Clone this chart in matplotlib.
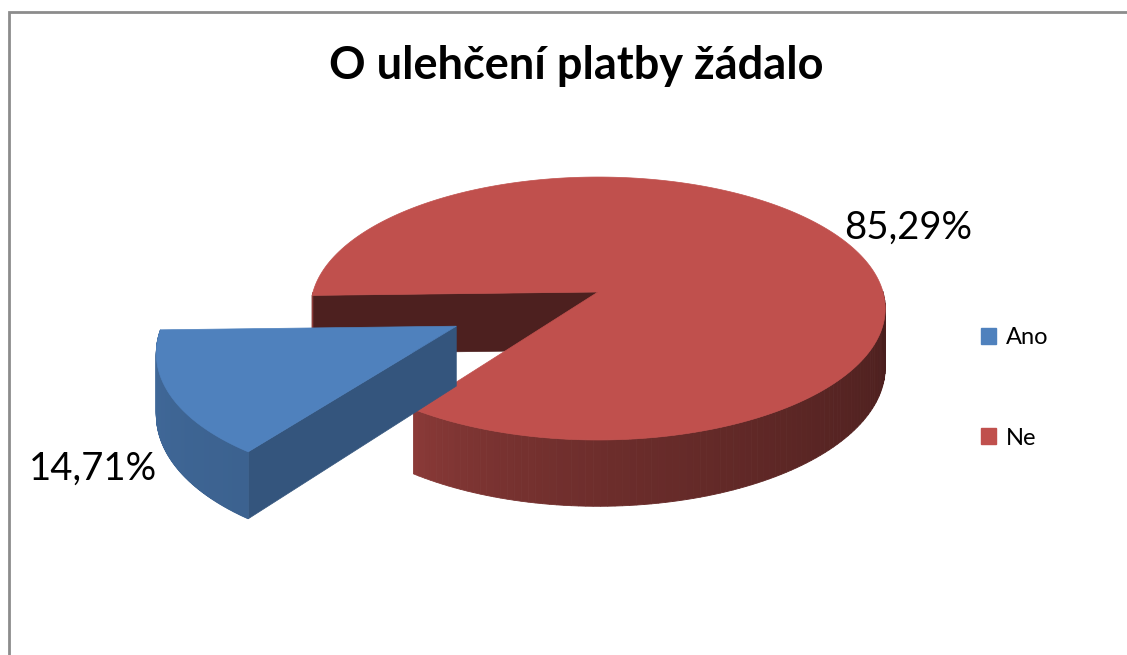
import numpy as np
import matplotlib
matplotlib.use('Agg')
import matplotlib.pyplot as plt
from matplotlib.patches import Polygon, Patch
from matplotlib.colors import to_rgb

# data
labels = ['Ano', 'Ne']
shares = [14.71, 85.29]
pct_text = ['14,71%', '85,29%']
colors = ['#4F81BD', '#C0504D']
title = 'O ulehčení platby žádalo'

# fake 3D pie geometry (pixel space of the picture)
CX, CY = 598, 292
RX, RY = 285, 129.4
PERSP = 0.1255
DEPTH = 58
START = 181.5
explode = [0.545, 0.0]
side_shade = [(0.84, 0.76), (0.74, 0.38)]
face_shade = [0.66, 0.40]
label_xy = [(93, 469), (908, 228)]

FONT = ['Lato', 'DejaVu Sans']


def proj(u, v, z=0.0):
    w = 1 + PERSP * v
    return CX + RX * u / w, CY + (-RY * v + DEPTH * z) / w


def shade(col, f):
    return tuple(np.clip(np.array(to_rgb(col)) * f, 0, 1))


def draw_slice(ax, a0, a1, ex, col, sf, ff):
    mid = np.radians((a0 + a1) / 2)
    ou, ov = ex * np.cos(mid), ex * np.sin(mid)
    th = np.radians(np.linspace(a0, a1, 240))

    # flat radial walls, only the ones facing the viewer
    for a, sgn in ((a0, -1), (a1, 1)):
        n = np.radians(a + sgn * 90)
        if np.sin(n) < 0:
            ar = np.radians(a)
            pts = [proj(ou, ov, 0), proj(ou + np.cos(ar), ov + np.sin(ar), 0),
                   proj(ou + np.cos(ar), ov + np.sin(ar), 1), proj(ou, ov, 1)]
            c = shade(col, ff)
            ax.add_patch(Polygon(pts, closed=True, fc=c, ec=c, lw=0.5))

    # curved outer wall, front half only; shade along the longest visible run
    vis = [i for i in range(len(th) - 1) if np.sin((th[i] + th[i + 1]) / 2) < 0]
    runs = []
    for i in vis:
        if runs and runs[-1][-1] == i - 1:
            runs[-1].append(i)
        else:
            runs.append([i])
    main = max(runs, key=len) if runs else []
    for run in runs:
        t_lo, t_hi = th[main[0]], th[main[-1] + 1]
        for i in run:
            t0, t1 = th[i], th[i + 1]
            if run is main:
                frac = ((t0 + t1) / 2 - t_lo) / max(t_hi - t_lo, 1e-9)
            else:
                frac = 0.0
            c = shade(col, sf[0] + (sf[1] - sf[0]) * frac ** 0.6)
            pts = [proj(ou + np.cos(t0), ov + np.sin(t0), 0),
                   proj(ou + np.cos(t1), ov + np.sin(t1), 0),
                   proj(ou + np.cos(t1), ov + np.sin(t1), 1),
                   proj(ou + np.cos(t0), ov + np.sin(t0), 1)]
            ax.add_patch(Polygon(pts, closed=True, fc=c, ec=c, lw=0.6))

    # top face
    pts = [proj(ou, ov, 0)] + [proj(ou + np.cos(t), ov + np.sin(t), 0) for t in th]
    ax.add_patch(Polygon(pts, closed=True, fc=col, ec=col, lw=0.5))


fig = plt.figure(figsize=(11.27, 6.55), dpi=100)
ax = fig.add_axes([0, 0, 1, 1])
ax.set_xlim(0, 1127)
ax.set_ylim(655, 0)
ax.axis('off')

# chart frame
ax.plot([9, 9, 1127], [655, 12, 12], color='#8C8C8C', lw=2, solid_joinstyle='miter')

angles = START + 360 * np.concatenate([[0], np.cumsum(shares)]) / sum(shares)
for i in [1, 0]:
    draw_slice(ax, angles[i], angles[i + 1], explode[i], colors[i],
               side_shade[i], face_shade[i])

for txt, (x, y) in zip(pct_text, label_xy):
    ax.text(x, y, txt, ha='center', va='center', fontsize=27.5, family=FONT)

ax.text(576, 66, title, ha='center', va='center', fontsize=32.5,
        fontweight='bold', family=FONT)

handles = [Patch(fc=c, ec=c) for c in colors]
leg = fig.legend(handles, labels, loc='center left', frameon=False,
                 bbox_to_anchor=(976 / 1127, 1 - 388 / 655),
                 fontsize=17, handlelength=0.65, handleheight=0.65,
                 handletextpad=0.4, labelspacing=3.35, borderpad=0.2,
                 borderaxespad=0)
for t in leg.get_texts():
    t.set_family(FONT)

fig.savefig('out.png', dpi=100)
